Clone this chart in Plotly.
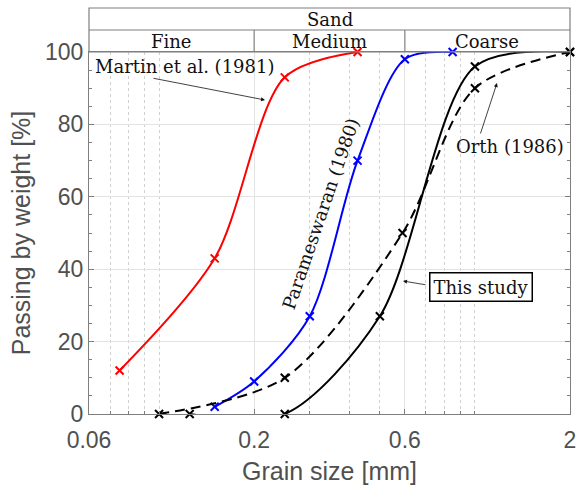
import math
import plotly.graph_objects as go

# ---- data ----
martin_x = [0.075, 0.15, 0.25, 0.425]
martin_y = [12, 43, 93, 100]

param_x = [0.15, 0.2, 0.3, 0.425, 0.6, 0.85]
param_y = [2, 9, 27, 70, 98, 100]

orth_x = [0.1, 0.25, 0.59, 1.0, 2.0]
orth_y = [0, 10, 50, 90, 100]

study_x = [0.125, 0.25, 0.5, 1.0, 2.0]
study_y = [0, 0, 27, 96, 100]

x_tickvals = [0.06, 0.2, 0.6, 2]
x_ticktext = ["0.06", "0.2", "0.6", "2"]
x_minor = [0.07, 0.08, 0.09, 0.1, 0.3, 0.4, 0.5, 0.7, 0.8, 0.9, 1.0]

header_top = "Sand"
header_bins = ["Fine", "Medium", "Coarse"]

SERIF = "DejaVu Serif"
SANS = "Liberation Sans, Arial, sans-serif"
GRAY = "#7f7f7f"
TXT = "#505050"

fig = go.Figure()

def add(xs, ys, color, dash="solid", smooth=0.85):
    fig.add_trace(go.Scatter(
        x=xs, y=ys, mode="lines+markers",
        line=dict(color=color, width=2, shape="spline", smoothing=smooth, dash=dash),
        marker=dict(symbol="x-thin", size=8, color=color,
                    line=dict(color=color, width=2)),
        cliponaxis=False, showlegend=False, hoverinfo="skip"))

add(martin_x, martin_y, "#ff0000")
add(param_x, param_y, "#0000ff")
add(orth_x, orth_y, "#000000", dash="10px,6px")
add(study_x, study_y, "#000000")

fig.update_layout(
    width=577, height=485,
    margin=dict(l=89, r=7, t=52, b=71),
    paper_bgcolor="white", plot_bgcolor="white",
    showlegend=False,
)

fig.update_xaxes(
    type="log", range=[math.log10(0.06), math.log10(2.0)],
    tickvals=x_tickvals, ticktext=x_ticktext,
    showgrid=True, gridcolor="#e3e3e3", gridwidth=1,
    showline=True, linecolor=GRAY, linewidth=1.2, mirror=True,
    ticks="inside", ticklen=5, tickcolor=GRAY,
    tickfont=dict(family=SANS, size=23, color=TXT),
    ticklabelstandoff=5,
    title=dict(text="Grain size [mm]", font=dict(family=SANS, size=25, color=TXT), standoff=12),
    minor=dict(tickvals=x_minor, showgrid=True, griddash="dot", gridcolor="#d0d0d0",
               gridwidth=1, ticks="inside", ticklen=3, tickcolor=GRAY),
    zeroline=False, automargin=False,
)

fig.update_yaxes(
    range=[0, 100], tickvals=[0, 20, 40, 60, 80, 100],
    showgrid=True, gridcolor="#e3e3e3", gridwidth=1,
    showline=True, linecolor=GRAY, linewidth=1.2, mirror="allticks",
    ticks="inside", ticklen=5, tickcolor=GRAY,
    tickfont=dict(family=SANS, size=23, color=TXT),
    title=dict(text="Passing by weight [%]", font=dict(family=SANS, size=25, color=TXT), standoff=7),
    minor=dict(dtick=5, ticks="inside", ticklen=3, tickcolor=GRAY, showgrid=False),
    zeroline=False, automargin=False,
)

# ---- header table (paper coords) ----
lo, hi = 0.06, 2.0
def px(v):
    return math.log10(v / lo) / math.log10(hi / lo)

y_top = 1 + 44 / 362
y_mid = 1 + 22 / 362
shapes = [
    dict(type="rect", xref="paper", yref="paper", x0=0, x1=1, y0=1, y1=y_top,
         line=dict(color=GRAY, width=1.2)),
    dict(type="line", xref="paper", yref="paper", x0=0, x1=1, y0=y_mid, y1=y_mid,
         line=dict(color=GRAY, width=1.2)),
    dict(type="line", xref="paper", yref="paper", x0=px(0.2), x1=px(0.2), y0=1, y1=y_mid,
         line=dict(color=GRAY, width=1.2)),
    dict(type="line", xref="paper", yref="paper", x0=px(0.6), x1=px(0.6), y0=1, y1=y_mid,
         line=dict(color=GRAY, width=1.2)),
]
fig.update_layout(shapes=shapes)

tf = dict(family=SERIF, size=18, color="#111111")
ann = []
ann.append(dict(xref="paper", yref="paper", x=0.5, y=(y_top + y_mid) / 2, text=header_top,
                showarrow=False, font=tf, xanchor="center", yanchor="middle"))
centers = [px(0.2) / 2, (px(0.2) + px(0.6)) / 2, (px(0.6) + 1) / 2]
for c, t in zip(centers, header_bins):
    ann.append(dict(xref="paper", yref="paper", x=c, y=(1 + y_mid) / 2, text=t,
                    showarrow=False, font=tf, xanchor="center", yanchor="middle"))

def P(xpix, ypix):
    return (xpix - 89) / 481, (414 - ypix) / 362

x, y = P(184, 67)
ann.append(dict(xref="paper", yref="paper", x=x, y=y, text="Martin et al. (1981)",
                showarrow=False, font=tf, xanchor="center", yanchor="middle"))
x, y = P(320, 214)
ann.append(dict(xref="paper", yref="paper", x=x, y=y, text="Parameswaran (1980)",
                showarrow=False, font=tf, xanchor="center", yanchor="middle", textangle=-71))
x, y = P(510, 146)
ann.append(dict(xref="paper", yref="paper", x=x, y=y, text="Orth (1986)",
                showarrow=False, font=tf, xanchor="center", yanchor="middle"))
x, y = P(481, 287)
ann.append(dict(xref="paper", yref="paper", x=x, y=y, text="This study",
                showarrow=False, font=tf, xanchor="center", yanchor="middle",
                bordercolor="#000000", borderwidth=1.5, borderpad=3, bgcolor="white"))

def arrow(head, tail):
    hx, hy = P(*head)
    ann.append(dict(xref="paper", yref="paper", x=hx, y=hy, text="",
                    showarrow=True, ax=tail[0] - head[0], ay=tail[1] - head[1],
                    arrowhead=2, arrowsize=1, arrowwidth=0.8, arrowcolor="#111111"))

arrow((265, 100), (152, 78))
arrow((497, 83), (480, 135))
arrow((403, 281), (427, 285))

fig.update_layout(annotations=ann)

fig.write_html("out.html")
